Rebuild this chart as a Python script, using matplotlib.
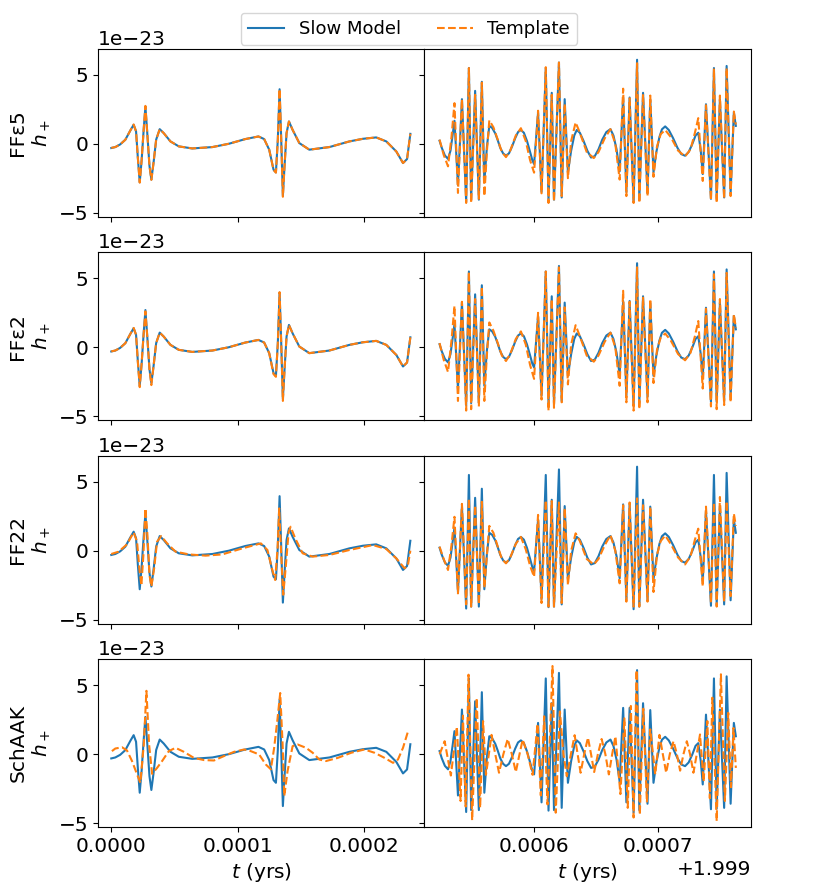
import numpy as np
import matplotlib.pyplot as plt

# times in micro-years (left: from 0, right: after 1.999 yr), strain in units of 1e-23

# ---- left column (start of the inspiral) ----
t_left = [0, 3.2, 7, 11.1, 15.1, 17.7, 19.6, 21.0, 22.5, 24.0, 25.6, 27.0, 28.6, 30.2, 31.7,
          33.4, 35.5, 38.3, 41.5, 46.8, 53.4, 64, 80, 93, 106, 116.4, 120.9, 124.9, 128.3,
          130.2, 131.7, 133.1, 134.4, 135.7, 137.0, 138.6, 140.5, 143.4, 148.7, 156.6, 172.5,
          188.3, 199, 209.5, 217.5, 225.4, 230.7, 233.9, 236.5]
slow_left = [-0.31, -0.24, -0.05, 0.29, 0.97, 1.38, 0.90, -1.00, -2.80, -1.20, 1.00, 2.70, 0.60,
             -1.60, -2.60, -1.40, 0.30, 1.06, 0.77, 0.17, -0.19, -0.34, -0.24, 0.00, 0.34, 0.53,
             0.34, -0.43, -1.88, -2.08, 0.29, 3.96, 0.29, -3.77, -1.64, 0.77, 1.62, 1.01, 0.05,
             -0.43, -0.24, 0.17, 0.36, 0.46, 0.17, -0.56, -1.40, -1.11, 0.72]
ffe5_left = [-0.30, -0.24, -0.05, 0.29, 0.97, 1.40, 0.90, -1.00, -2.82, -1.20, 1.00, 2.75, 0.60,
             -1.60, -2.62, -1.40, 0.30, 1.06, 0.77, 0.17, -0.19, -0.34, -0.24, 0.00, 0.34, 0.53,
             0.34, -0.43, -1.90, -2.10, 0.29, 3.98, 0.29, -3.85, -1.64, 0.77, 1.62, 1.01, 0.05,
             -0.43, -0.24, 0.17, 0.36, 0.46, 0.17, -0.56, -1.40, -1.11, 0.72]
ffe2_left = [-0.30, -0.24, -0.05, 0.29, 0.97, 1.40, 0.90, -1.05, -2.90, -1.20, 1.00, 2.60, 0.60,
             -1.60, -2.75, -1.40, 0.30, 1.06, 0.77, 0.17, -0.19, -0.34, -0.24, 0.00, 0.34, 0.53,
             0.34, -0.43, -1.95, -2.15, 0.29, 4.00, 0.29, -3.90, -1.64, 0.77, 1.62, 1.01, 0.05,
             -0.43, -0.24, 0.17, 0.36, 0.46, 0.17, -0.56, -1.40, -1.11, 0.72]

t_ff22_left = [0.0, 5.8, 12.4, 17.7, 20.4, 22.2, 23.8, 25.4, 27.0, 28.6, 30.2, 31.7, 33.9, 36.2,
               39.4, 44.2, 50.8, 61.4, 74.6, 87.8, 103.7, 118.3, 123.5, 127.0, 129.6, 131.5,
               132.8, 134.4, 136.0, 138.1, 140.2, 141.8, 145.5, 151.3, 159.3, 172.5, 188.3,
               206.9, 217.5, 225.4, 232.0, 234.6, 236.5]
ff22_left = [-0.24, -0.07, 0.46, 1.33, 0.65, -1.28, -2.54, -0.31, 3.07, 1.14, -1.76, -2.60, -1.28,
             0.65, 1.06, 0.53, -0.07, -0.27, -0.36, -0.27, 0.17, 0.53, 0.05, -1.28, -2.13, 0.17,
             3.07, -0.31, -3.20, -1.04, 1.33, 1.74, 0.89, -0.19, -0.43, -0.31, 0.05, 0.41, 0.12,
             -0.56, -1.28, -1.04, 0.00]

t_aak_left = [0.5, 3.2, 8.5, 12.4, 16.4, 20.4, 23.0, 25.7, 27.8, 29.9, 32.3, 36.2, 40.2, 45.5,
              50.8, 57.4, 65.3, 73.3, 81.2, 89.1, 97.1, 105.0, 110.3, 116.9, 122.2, 126.2, 128.8,
              131.5, 133.6, 135.5, 136.8, 139.4, 143.4, 147.4, 154.0, 159.3, 164.5, 169.8, 179.1,
              189.7, 200.2, 208.2, 216.1, 222.8, 226.7, 230.7, 234.7]
aak_left = [0.22, 0.41, 0.50, 0.27, -0.50, -1.47, -2.08, 0.70, 4.60, 0.70, -1.43, -1.00, -0.50,
            0.22, 0.46, 0.17, -0.27, -0.43, -0.46, -0.14, 0.17, 0.34, 0.22, -0.02, -0.75, -1.10,
            0.46, 2.60, 4.44, 0.70, -3.04, -1.23, 0.58, 0.70, 0.46, 0.10, -0.39, -0.50, -0.27,
            0.10, 0.34, 0.10, -0.27, -0.63, -0.39, 0.46, 1.67]

# ---- right column (end of the inspiral) ----
t_slow_right = [524.2, 526.0, 528.5, 531.0, 533.0, 534.8, 536.2, 539.0, 542.2, 545.6, 547.8,
                549.6, 552.8, 555.8, 558.2, 560.2, 562.3, 564.2, 566.5, 569.0, 571.0, 573.0,
                575.3, 577.6, 580.0, 582.5, 585.0, 587.3, 589.6, 592.0, 594.5, 597.0, 598.8,
                600.2, 603.4, 606.2, 609.6, 611.8, 614.4, 616.2, 620.2, 622.4, 624.8, 627.4,
                630.0, 632.5, 634.5, 637.0, 640.0, 643.0, 646.0, 649.0, 652.0, 655.0, 658.3,
                661.6, 664.0, 666.5, 669.0, 671.8, 674.4, 677.0, 680.2, 683.0, 684.8, 687.8,
                691.4, 693.6, 696.2, 698.5, 701.0, 703.0, 705.6, 708.5, 712.0, 715.5, 718.5,
                721.6, 724.5, 727.5, 730.0, 732.2, 734.2, 735.8, 738.4, 742.4, 744.8, 747.0,
                749.6, 753.0, 755.0, 758.2, 760.8, 762.4]
slow_right = [0.22, -0.30, -0.85, -1.10, -0.50, 0.70, 1.67, -3.00, 3.24, -4.20, 5.50,
              -4.06, 3.84, -4.06, 4.50, -2.80, -0.20, 1.30, 1.15, 0.75, 0.25, -0.30,
              -0.70, -0.87, -0.70, -0.20, 0.40, 0.85, 1.00, 0.80, 0.20, -0.60, -1.20,
              -1.47, 2.27, -3.50, 5.50, -4.10, 3.70, -4.06, 5.90, -3.90, 3.24, -2.08,
              -0.50, 0.60, 1.00, 0.80, 0.20, -0.50, -1.00, -0.90, -0.40, 0.30, 0.85,
              1.06, 0.60, -0.40, -2.00, 3.36, -3.50, 3.36, -4.25, 6.10, -4.06, 3.70,
              -3.60, 3.20, -2.08, -0.60, 0.50, 1.05, 1.26, 1.00, 0.40, -0.30, -0.75,
              -0.87, -0.60, 0.00, 0.60, 0.80, -0.50, -2.20, 2.87, -4.00, 5.50, -3.96,
              3.24, -3.90, 5.65, -3.60, 2.27, 1.30]

t_tmpl_right = [524.2, 527.5, 531.0, 533.8, 536.2, 539.0, 542.2, 545.6, 547.8, 549.6, 552.8,
                555.8, 558.2, 560.2, 562.3, 564.2, 567.5, 571.0, 574.3, 577.6, 581.0, 585.5,
                589.6, 593.5, 597.0, 600.2, 603.4, 606.2, 609.6, 611.8, 614.4, 616.2, 620.2,
                622.4, 624.8, 627.4, 630.0, 633.6, 637.0, 642.5, 648.2, 652.0, 657.0, 661.6,
                665.5, 669.0, 671.8, 674.4, 677.0, 680.2, 683.0, 684.8, 687.8, 691.4, 693.6,
                696.2, 699.0, 702.0, 705.6, 710.0, 716.0, 721.6, 726.0, 729.5, 732.2, 735.8,
                738.4, 742.4, 744.8, 747.0, 749.6, 753.0, 755.0, 758.2, 760.8, 762.4]
ffe5_right = [0.3, -0.8, -1.64, 0.5, 2.95, -3.57, 3.24, -4.3, 5.5, -4.3, 3.55, -4.0,
              4.44, -3.8, -0.5, 1.7, 1.2, 0.3, -0.6, -0.97, -0.5, 0.6, 1.13, 0.2,
              -1.2, -2.1, 2.4, -3.6, 5.56, -4.3, 3.55, -4.2, 5.9, -3.8, 2.9, -2.5,
              0.2, 1.55, 0.8, -0.6, -1.04, -0.6, 0.4, 1.06, 0.0, -2.6, 4.0, -3.8,
              3.3, -4.3, 5.85, -4.3, 3.6, -3.8, 3.5, -2.4, -0.2, 0.7, 1.0, 0.5,
              -0.5, -0.92, -0.4, 0.8, 1.86, -2.7, 2.8, -4.1, 5.4, -4.3, 3.5, -4.0,
              5.5, -3.8, 2.34, 1.4]
ffe2_right = [0.3, -0.9, -1.8, 0.5, 3.0, -3.9, 3.3, -4.6, 5.5, -4.5, 3.5, -4.3,
              4.4, -3.9, -0.5, 1.8, 1.2, 0.3, -0.6, -1.0, -0.5, 0.6, 1.15, 0.2,
              -1.3, -2.3, 2.5, -3.8, 5.5, -4.6, 3.5, -4.4, 5.8, -4.0, 2.9, -2.7,
              0.2, 1.6, 0.8, -0.6, -1.05, -0.6, 0.4, 1.06, 0.0, -2.8, 4.1, -4.0,
              3.3, -4.6, 5.8, -4.5, 3.6, -4.0, 3.5, -2.6, -0.2, 0.7, 1.0, 0.5,
              -0.5, -0.95, -0.4, 0.8, 1.9, -3.0, 2.8, -4.3, 5.3, -4.5, 3.5, -4.2,
              5.4, -4.0, 2.4, 1.4]
ff22_right = [0.29, -0.6, -1.4, 0.4, 2.46, -3.1, 3.4, -3.9, 3.8, -4.06, 3.3, -3.9,
              3.55, -2.7, -0.3, 1.8, 1.3, 0.3, -0.6, -0.92, -0.5, 0.5, 1.0, 0.1,
              -1.1, -1.9, 2.6, -3.8, 3.67, -4.06, 3.6, -4.06, 3.5, -3.8, 3.1, -2.5,
              0.0, 1.26, 0.7, -0.6, -1.0, -0.6, 0.4, 1.13, 0.0, -2.37, 3.3, -3.7,
              3.5, -4.06, 3.8, -4.06, 3.3, -3.7, 3.2, -3.0, -0.3, 0.7, 1.1, 0.5,
              -0.5, -1.0, -0.4, 0.8, 1.6, -2.6, 3.2, -3.8, 3.5, -4.06, 3.9, -3.7,
              3.6, -3.3, 2.7, 1.8]

t_aak_right = [524.3, 528.3, 533.3, 538.1, 541.1, 543.0, 545.2, 547.5, 550.4, 554.1, 556.8,
               559.2, 561.5, 566.0, 569.0, 572.0, 575.5, 579.0, 582.3, 585.5, 588.5, 591.0,
               595.0, 599.0, 603.0, 605.6, 608.3, 611.0, 615.0, 617.6, 621.0, 623.8, 626.5,
               629.8, 632.8, 635.2, 637.6, 640.5, 643.5, 646.0, 648.5, 651.5, 654.5, 657.5,
               660.3, 663.0, 665.6, 669.6, 672.8, 675.5, 678.0, 680.2, 682.6, 685.2, 688.0,
               690.9, 693.6, 697.6, 701.0, 703.7, 706.4, 709.3, 712.3, 715.0, 717.6, 720.3,
               723.0, 725.6, 728.3, 731.0, 733.6, 736.5, 739.5, 741.5, 743.5, 747.0, 750.4,
               753.6, 756.3, 758.5, 760.5, 762.4]
aak_right = [0.0, 0.94, -1.55, 2.0, -3.4, 2.8, -3.8, 5.77, -4.8, 4.08, -3.9,
             2.4, -1.5, 1.4, 0.0, -1.35, 0.0, 1.1, 0.0, -1.3, 0.0, 1.05,
             0.0, -1.5, 2.2, -3.0, 2.75, -3.65, 6.4, -4.25, 3.1, 0.0, -1.6,
             0.0, 1.38, 0.0, -1.35, 0.0, 1.2, 0.0, -1.3, 0.0, 1.1, 0.0,
             -1.47, 0.0, 1.3, -2.9, 2.6, -3.9, 3.5, -4.6, 6.1, -4.4, 3.3,
             -3.5, 1.8, -1.47, 1.4, 0.0, -1.35, 0.0, 0.94, 0.0, -1.2, 0.0,
             0.94, 0.0, -1.35, 0.0, 1.43, -2.0, 2.4, -3.2, 4.1, -4.86, 5.8,
             -3.4, 3.0, -2.4, 1.9, -1.0]

row_names = ['FF\u03b55', 'FF\u03b52', 'FF22', 'SchAAK']
templates_left = [(t_left, ffe5_left), (t_left, ffe2_left), (t_ff22_left, ff22_left),
                  (t_aak_left, aak_left)]
templates_right = [(t_tmpl_right, ffe5_right), (t_tmpl_right, ffe2_right),
                   (t_tmpl_right, ff22_right), (t_aak_right, aak_right)]

plt.rcParams['font.size'] = 14.5

fig, axes = plt.subplots(4, 2, figsize=(8.18, 8.96), dpi=100, sharex='col', sharey=True)
fig.subplots_adjust(left=0.1198, right=0.9178, bottom=0.077, top=0.9453, wspace=0, hspace=0.214)

us = 1e-6
amp = 1e-23
for i in range(4):
    axl, axr = axes[i]
    tt, hh = templates_left[i]
    l1, = axl.plot(np.array(t_left) * us, np.array(slow_left) * amp, color='C0', label='Slow Model')
    l2, = axl.plot(np.array(tt) * us, np.array(hh) * amp, color='C1', ls='--', label='Template')
    tt, hh = templates_right[i]
    axr.plot(1.999 + np.array(t_slow_right) * us, np.array(slow_right) * amp, color='C0')
    axr.plot(1.999 + np.array(tt) * us, np.array(hh) * amp, color='C1', ls='--')
    axl.set_ylabel(row_names[i] + '\n$h_+$')
    axr.tick_params(labelleft=False)
    axr.yaxis.get_offset_text().set_visible(False)
    if i < 3:
        axl.xaxis.get_offset_text().set_visible(False)
        axr.xaxis.get_offset_text().set_visible(False)

axes[0, 0].set_xlim(-10.5 * us, 247.6 * us)
axes[0, 1].set_xlim(1.999512, 1.9997744)
axes[0, 0].set_ylim(-5.29 * amp, 6.88 * amp)
axes[0, 0].set_yticks([-5e-23, 0, 5e-23])
axes[0, 0].set_xticks([0, 1e-4, 2e-4])
axes[0, 1].set_xticks([1.9996, 1.9997])
axes[3, 0].set_xlabel('$t$ (yrs)')
axes[3, 1].set_xlabel('$t$ (yrs)')

fig.legend(handles=[l1, l2], loc='upper center', bbox_to_anchor=(0.5, 0.996), ncol=2,
           fontsize=13)

fig.savefig('out.png', dpi=100)
